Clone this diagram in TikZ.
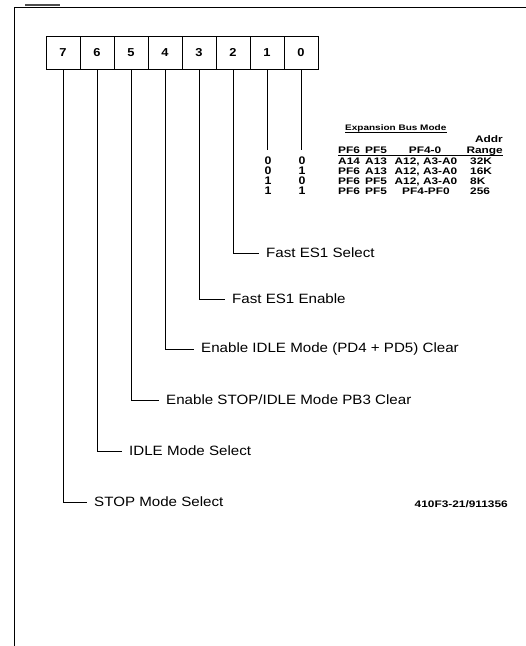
\documentclass[tikz,border=0pt]{standalone}
\usepackage{fontspec}
\setmainfont[FakeStretch=1.12]{Liberation Sans}
\newfontfamily\tblfont[FakeStretch=1.25]{Liberation Sans}
\begin{document}
\begin{tikzpicture}[x=1pt,y=-1pt,
  bitbox/.style={draw,line width=0.8pt,minimum width=34pt,minimum height=33pt,inner sep=0pt,font=\bfseries\fontsize{11.5}{12}\selectfont},
  lbl/.style={anchor=west,inner sep=0pt,font=\fontsize{13.5}{15}\selectfont},
  tbl/.style={inner sep=0pt,font=\tblfont\bfseries\fontsize{9.5}{10}\selectfont},
  dig/.style={inner sep=0pt,anchor=base,font=\bfseries\fontsize{11}{12}\selectfont},
  wire/.style={line width=0.7pt}]
\useasboundingbox (0,0) rectangle (526,646);
% frame
\draw[line width=0.8pt] (14,646) -- (14,7) -- (526,7);
\draw[line width=1.2pt,black!70] (25,5) -- (60,5);
% bit boxes
\foreach \b [count=\i from 0] in {7,6,5,4,3,2,1,0} {
  \node[bitbox] (b\b) at (63+34*\i,52.5) {\b};
}
% labels
\node[lbl] (l2) at (266,253) {Fast ES1 Select};
\node[lbl] (l3) at (232,299) {Fast ES1 Enable};
\node[lbl] (l4) at (201,349) {Enable IDLE Mode (PD4 + PD5) Clear};
\node[lbl] (l5) at (166,400) {Enable STOP/IDLE Mode PB3 Clear};
\node[lbl] (l6) at (129,451) {IDLE Mode Select};
\node[lbl] (l7) at (94,502) {STOP Mode Select};
\foreach \b in {2,3,4,5,6,7} {
  \draw[wire] (b\b.south) |- ([xshift=-7pt]l\b.west);
}
% bits 1 and 0
\coordinate (e1) at (b1 |- 0,150);
\coordinate (e0) at (b0 |- 0,150);
\draw[wire] (b1.south) -- (e1);
\draw[wire] (b0.south) -- (e0);
% table
\node[tbl,anchor=base west,font=\tblfont\bfseries\fontsize{8}{10}\selectfont] (title) at (345,130) {Expansion Bus Mode};
\draw[line width=0.6pt] (title.base west) ++(0,2) -- (title.base east |- 0,132);
\node[tbl,anchor=base east] (addr) at (503,142) {Addr};
\node[tbl,anchor=base west] (h1) at (338,153) {PF6};
\node[tbl,anchor=base west] (h2) at (365,153) {PF5};
\node[tbl,anchor=base] (h3) at (425,153) {PF4-0};
\node[tbl,anchor=base east] (h4) at (503,153) {Range};
\draw[line width=0.6pt] (h1.base west) ++(0,2) -- (h4.base east |- 0,155);
\foreach \y/\p/\q/\a/\c/\d/\r in {164/0/0/A14/A13/{A12, A3-A0}/32K,174/0/1/PF6/A13/{A12, A3-A0}/16K,184/1/0/PF6/PF5/{A12, A3-A0}/8K,194/1/1/PF6/PF5/PF4-PF0/256} {
  \node[dig] at (268,\y) {\p};
  \node[dig] at (302,\y) {\q};
  \node[tbl,anchor=base west] at (338,\y) {\a};
  \node[tbl,anchor=base west] at (365,\y) {\c};
  \node[tbl,anchor=base] at (426,\y) {\d};
  \node[tbl,anchor=base west] at (470,\y) {\r};
}
\node[tbl,anchor=base east,font=\tblfont\bfseries\fontsize{9.5}{10}\selectfont] (fig) at (508,507) {410F3-21/911356};
\end{tikzpicture}
\end{document}
